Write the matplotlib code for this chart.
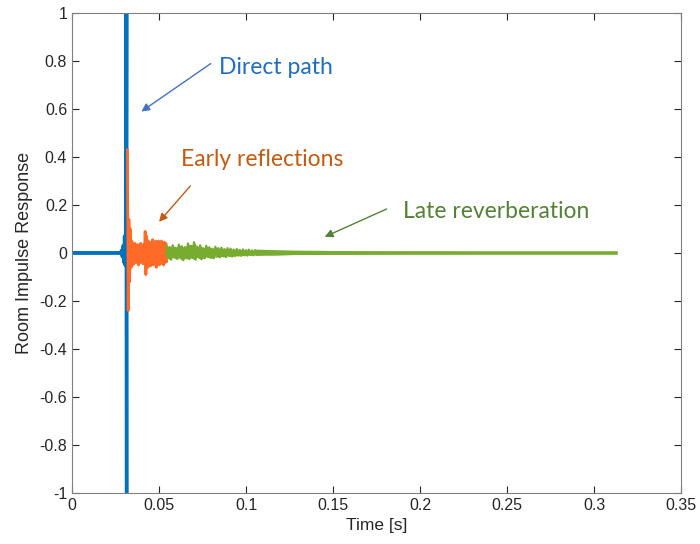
import numpy as np
import matplotlib
matplotlib.use('Agg')
import matplotlib.pyplot as plt

# direct path (blue)
direct_t = [0.0, 0.0280, 0.0285, 0.0290, 0.0295, 0.0300, 0.0303, 0.0306, 0.0309, 0.0312, 0.0314]
direct_v = [0.0, 0.0, 0.01, -0.015, 0.03, -0.04, 0.07, -0.05, 0.04, 1.05, -1.05]

# early reflections (orange), samples
early_start, early_end = 0.0318, 0.0543
early_v = [0.43, -0.24, 0.14, -0.12, 0.10, -0.06, 0.05, -0.05,
           0.03, -0.045, 0.04, -0.035, 0.03, -0.04, 0.035, -0.05,
           0.03, -0.04, 0.04, -0.035, 0.03, -0.045, 0.035, -0.04,
           0.09, -0.09, 0.07, -0.06,
           0.05, -0.04, 0.045, -0.055, 0.04, -0.035, 0.055, -0.05,
           0.04, -0.04, 0.05, -0.06, 0.045, -0.04, 0.05, -0.05,
           0.04, -0.045, 0.05, -0.04, 0.035, -0.05, 0.045, -0.04,
           0.04, -0.035]

# late reverberation (green), early dense part as raw wiggles
late_a_start, late_a_end = 0.0543, 0.106
late_a_v = [0.03, -0.02, 0.025, -0.028, 0.032, -0.018, 0.022, -0.025, 0.035, -0.02,
            0.028, -0.03, 0.024, -0.022, 0.04, -0.025, 0.03, -0.02, 0.045, -0.028,
            0.026, -0.018, 0.032, -0.026, 0.02, -0.022, 0.03, -0.016, 0.024, -0.02,
            0.018, -0.022, 0.026, -0.015, 0.02, -0.018, 0.022, -0.014, 0.016, -0.017,
            0.02, -0.012, 0.018, -0.015, 0.014, -0.013, 0.017, -0.011, 0.013, -0.012,
            0.015, -0.01, 0.012, -0.011, 0.014, -0.009, 0.011, -0.01, 0.012, -0.008]
# late reverberation tail envelope
late_t = [0.106, 0.111, 0.1167, 0.122, 0.128, 0.134, 0.1425, 0.151, 0.160, 0.171,
          0.183, 0.194, 0.211, 0.2345, 0.263, 0.3125]
late_hi = [0.011, 0.01, 0.009, 0.008, 0.007, 0.0065, 0.006, 0.005, 0.0045, 0.004,
           0.003, 0.0025, 0.002, 0.0015, 0.001, 0.0005]
late_lo = [-0.009, -0.008, -0.008, -0.007, -0.006, -0.0055, -0.005, -0.0045, -0.004, -0.003,
           -0.0025, -0.002, -0.002, -0.0015, -0.001, -0.0005]

xticks = [0, 0.05, 0.1, 0.15, 0.2, 0.25, 0.3, 0.35]
yticks = [-1, -0.8, -0.6, -0.4, -0.2, 0, 0.2, 0.4, 0.6, 0.8, 1]

c_blue = '#0072BD'
c_orange = '#FF6A26'
c_green = '#77AC30'

plt.rcParams['font.family'] = ['Liberation Sans', 'DejaVu Sans']

fig = plt.figure(figsize=(7, 5.44), dpi=100)
ax = fig.add_axes([0.103, 0.094, 0.870, 0.882])

ax.plot(direct_t, direct_v, color=c_blue, lw=2.8, zorder=2)

early_t = np.linspace(early_start, early_end, len(early_v))
ax.plot(early_t, early_v, color=c_orange, lw=2.0, zorder=3)
# fill the gaps between the dense wiggles
ax.fill_between(early_t[8::2], early_v[9::2], early_v[8::2], color=c_orange, lw=0, zorder=3)

late_a_t = np.linspace(late_a_start, late_a_end, len(late_a_v))
ax.plot(late_a_t, late_a_v, color=c_green, lw=1.6, zorder=4)
ax.fill_between(late_a_t[::2], late_a_v[1::2], late_a_v[::2], color=c_green, lw=0, zorder=4)
ax.fill_between(late_t, late_lo, late_hi, color=c_green, lw=0, zorder=4)
ax.plot(late_t, late_hi, color=c_green, lw=1.0, zorder=4)
ax.plot(late_t, late_lo, color=c_green, lw=1.0, zorder=4)
ax.plot([late_a_t[0], late_t[-1]], [0, 0], color=c_green, lw=2.6, zorder=4)

ax.set_xlim(0, 0.35)
ax.set_ylim(-1, 1)
ax.set_xticks(xticks)
ax.set_xticklabels([f'{v:g}' for v in xticks])
ax.set_yticks(yticks)
ax.set_yticklabels([f'{v:g}' for v in yticks])
ax.tick_params(direction='in', length=5, width=0.8, top=True, right=True,
               labelsize=11.5, colors='#262626')
for sp in ax.spines.values():
    sp.set_color('#808080')
    sp.set_linewidth(0.8)
ax.set_xlabel('Time [s]', fontsize=12.5, color='#262626', labelpad=4)
ax.set_ylabel('Room Impulse Response', fontsize=13, color='#262626', labelpad=5)

afont = ['Lato', 'DejaVu Sans']
ax.text(0.1172, 0.775, 'Direct path', color='#1F6FC0', fontsize=16.5,
        family=afont, ha='center', va='center')
ax.annotate('', xy=(0.0385, 0.583), xytext=(0.0810, 0.796),
            arrowprops=dict(arrowstyle='-|>', color='#4472C4', lw=1.0, mutation_scale=12))
ax.text(0.1092, 0.388, 'Early reflections', color='#C55A11', fontsize=16.5,
        family=afont, ha='center', va='center')
ax.annotate('', xy=(0.0489, 0.121), xytext=(0.0690, 0.288),
            arrowprops=dict(arrowstyle='-|>', color='#C55A11', lw=1.0, mutation_scale=12))
ax.text(0.2437, 0.171, 'Late reverberation', color='#548235', fontsize=16.5,
        family=afont, ha='center', va='center')
ax.annotate('', xy=(0.1437, 0.0625), xytext=(0.1822, 0.188),
            arrowprops=dict(arrowstyle='-|>', color='#548235', lw=1.0, mutation_scale=12))

fig.savefig('out.png', dpi=100)
